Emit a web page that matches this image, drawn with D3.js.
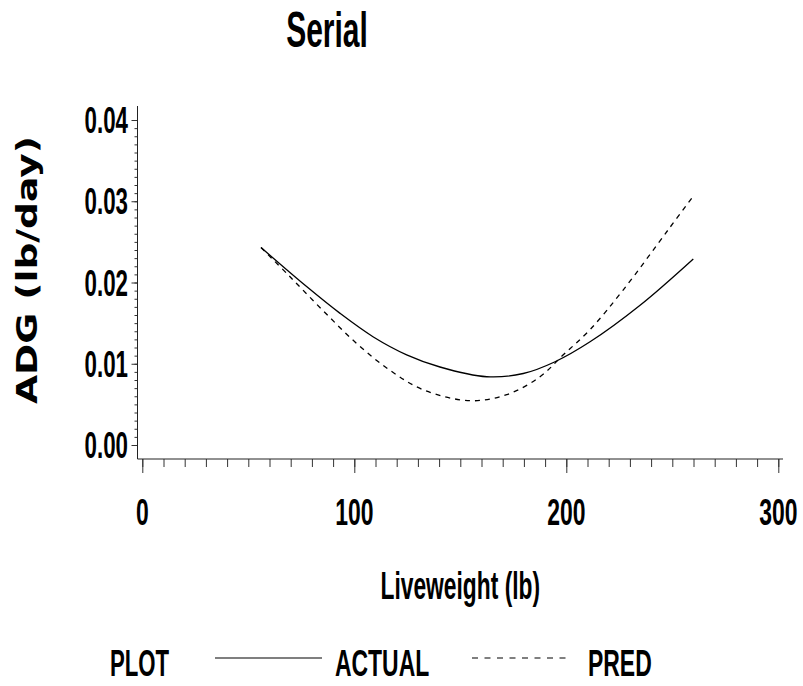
<!DOCTYPE html>
<html>
<head>
<meta charset="utf-8">
<script src="https://cdn.jsdelivr.net/npm/d3@7"></script>
<style>
  body { margin: 0; background: #fff; }
  svg { display: block; }
</style>
</head>
<body>
<div id="chart"></div>
<script>
// data
const actualX = [56, 77.5, 93.3, 109, 124.7, 140.4, 162.5, 179.7, 194.7, 211.2, 234.8, 259.9];
const actualY = [0.0243, 0.0195, 0.0162, 0.0133, 0.0111, 0.0096, 0.0084, 0.0088, 0.01025, 0.0127, 0.0172, 0.0229];
const predX = [56, 69.7, 85.4, 101.1, 116.8, 132.5, 154.6, 171.9, 187.6, 198.6, 211.2, 226.9, 248.1, 259.8];
const predY = [0.0243, 0.0207, 0.0165, 0.0125, 0.0092, 0.0068, 0.00545, 0.0062, 0.0084, 0.0111, 0.0142, 0.0191, 0.0265, 0.0306];
const xTicks = [0, 100, 200, 300];
const yTicks = [0, 0.01, 0.02, 0.03, 0.04];
const yTickLabels = ["0.00", "0.01", "0.02", "0.03", "0.04"];

const width = 803, height = 686;
const svg = d3.select("#chart").append("svg")
    .attr("width", width)
    .attr("height", height);

const x = d3.scaleLinear().domain([0, 300]).range([142.3, 778.3]);
const y = d3.scaleLinear().domain([0, 0.04]).range([445, 120]);

const axisX = 459;    // where the x axis line sits
const axisY = 137.5;  // where the y axis line sits

// condensed text: bold font squeezed horizontally
function label(parent, px, py, txt, size, anchor, squeeze) {
    parent.append("g")
        .attr("transform", `translate(${px},${py}) scale(${squeeze || 0.62},1)`)
        .append("text")
        .attr("text-anchor", anchor || "middle")
        .attr("font-family", "'Liberation Sans', Arial, sans-serif")
        .attr("font-weight", "bold")
        .attr("font-size", size)
        .attr("fill", "#000")
        .text(txt);
}

// title
label(svg, 327, 47, "Serial", 50, "middle", 0.6);

// y axis
const gy = svg.append("g").attr("transform", `translate(${axisY},0)`);
gy.call(d3.axisLeft(y).tickValues(d3.range(0, 0.0405, 0.001)).tickSize(3).tickFormat(""));
gy.call(g => g.append("g").call(d3.axisLeft(y).tickValues(yTicks).tickSize(6).tickFormat("")));
gy.selectAll(".domain").remove();
gy.selectAll("line").attr("stroke", "#333").attr("stroke-width", 1);
gy.append("line")
    .attr("x1", 0).attr("x2", 0)
    .attr("y1", 106).attr("y2", axisX)
    .attr("stroke", "#222");

yTicks.forEach((v, i) => label(svg, 128, y(v) + 13, yTickLabels[i], 36, "end"));

// x axis
const gx = svg.append("g").attr("transform", `translate(0,${axisX})`);
gx.call(d3.axisBottom(x).tickValues(d3.range(0, 301, 10)).tickSize(8).tickFormat(""));
gx.call(g => g.append("g").call(d3.axisBottom(x).tickValues(xTicks).tickSize(14).tickFormat("")));
gx.selectAll(".domain").remove();
gx.selectAll("line").attr("stroke", "#333").attr("stroke-width", 1);
gx.append("line")
    .attr("x1", axisY).attr("x2", 783)
    .attr("y1", 0).attr("y2", 0)
    .attr("stroke", "#222");

xTicks.forEach(v => label(svg, x(v), 525, String(v), 37));

// axis titles
label(svg, x(150), 599, "Liveweight  (lb)", 38, "middle", 0.6);

svg.append("text")
    .attr("transform", "translate(37,270) rotate(-90)")
    .attr("text-anchor", "middle")
    .attr("font-family", "'DejaVu Sans', Verdana, sans-serif")
    .attr("font-weight", "bold")
    .attr("font-size", 29)
    .attr("textLength", 268)
    .attr("lengthAdjust", "spacingAndGlyphs")
    .text("ADG  (lb/day)");

// curves
const line = d3.line()
    .x(d => x(d[0]))
    .y(d => y(d[1]))
    .curve(d3.curveCatmullRom.alpha(0.5));

svg.append("path")
    .datum(d3.zip(actualX, actualY))
    .attr("d", line)
    .attr("fill", "none")
    .attr("stroke", "#000")
    .attr("stroke-width", 1.3);

svg.append("path")
    .datum(d3.zip(predX, predY))
    .attr("d", line)
    .attr("fill", "none")
    .attr("stroke", "#000")
    .attr("stroke-width", 1.3)
    .attr("stroke-dasharray", "5,5");

// legend
const legY = 658;
label(svg, 110, 676, "PLOT", 37, "start", 0.6);
svg.append("line")
    .attr("x1", 215).attr("x2", 322)
    .attr("y1", legY).attr("y2", legY)
    .attr("stroke", "#000").attr("stroke-width", 1.2);
label(svg, 335, 676, "ACTUAL", 37, "start", 0.62);
svg.append("line")
    .attr("x1", 472).attr("x2", 571)
    .attr("y1", legY).attr("y2", legY)
    .attr("stroke", "#000").attr("stroke-width", 1.2)
    .attr("stroke-dasharray", "6,6.5");
label(svg, 588, 676, "PRED", 37, "start", 0.62);
</script>
</body>
</html>
